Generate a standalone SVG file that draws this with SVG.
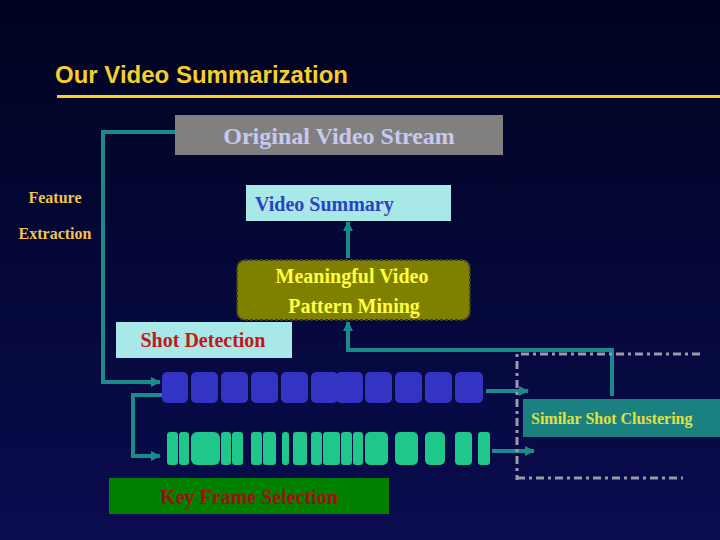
<svg xmlns="http://www.w3.org/2000/svg" width="720" height="540" viewBox="0 0 720 540">
<defs>
<linearGradient id="bg" x1="0" y1="0" x2="0" y2="1"><stop offset="0" stop-color="#00031f"/><stop offset="1" stop-color="#0a0c50"/></linearGradient>
<marker id="ah" markerWidth="10" markerHeight="10" refX="9" refY="5" orient="auto" markerUnits="userSpaceOnUse" viewBox="0 0 10 10"><path d="M0,0 L10,5 L0,10 z" fill="#1a8a8a"/></marker>
<style>
.c{fill:none;stroke:#1a8a8a;stroke-width:4}
.s{font-family:"Liberation Serif",serif;font-weight:bold}
.b{fill:#3434c4}
.g{fill:#1fc88a}
.d{fill:none;stroke:#9a9aaa;stroke-width:3;stroke-dasharray:8,4,3,4}
</style>
</defs>
<rect width="720" height="540" fill="url(#bg)"/>
<g id="title">
<text x="55" y="83" font-family="Liberation Sans,sans-serif" font-weight="bold" font-size="24" fill="#f5cf2a">Our Video Summarization</text>
<rect x="57" y="95" width="663" height="3" fill="#f5cf2a"/>
</g>
<g id="connectors">
<polyline class="c" points="175,132 103,132 103,382 160,382" marker-end="url(#ah)"/>
<polyline class="c" points="348,258 348,222" marker-end="url(#ah)"/>
<polyline class="c" points="612,396 612,350 348,350 348,322" marker-end="url(#ah)"/>
<polyline class="c" points="162,395 133,395 133,456 160,456" stroke-width="3" marker-end="url(#ah)"/>
<polyline class="c" points="486,391 528,391" marker-end="url(#ah)"/>
<polyline class="c" points="492,451 534,451" marker-end="url(#ah)"/>
<polyline class="d" points="700,354 517,354 517,480"/>
<line class="d" x1="517" y1="478" x2="683" y2="478"/>
</g>
<g id="original">
<rect x="175" y="115" width="328" height="40" fill="#808080"/>
<text class="s" x="339" y="144" font-size="24" fill="#c8c8f0" text-anchor="middle">Original Video Stream</text>
</g>
<g id="feature">
<text class="s" x="55" y="203" font-size="16" fill="#f0c44a" text-anchor="middle">Feature</text>
<text class="s" x="55" y="239" font-size="16" fill="#f0c44a" text-anchor="middle">Extraction</text>
</g>
<g id="summary">
<rect x="246" y="185" width="205" height="36" fill="#a8e8e8"/>
<text class="s" x="255" y="211" font-size="20" fill="#2a44c0">Video Summary</text>
</g>
<g id="mining">
<rect x="237" y="260" width="233" height="60" rx="8" fill="#808000" stroke="#3a3a30" stroke-width="2" stroke-dasharray="3,2"/>
<text class="s" x="352" y="283" font-size="20" fill="#ffff40" text-anchor="middle">Meaningful Video</text>
<text class="s" x="354" y="313" font-size="20" fill="#ffff40" text-anchor="middle">Pattern Mining</text>
</g>
<g id="shot">
<rect x="116" y="322" width="176" height="36" fill="#a8e8e8"/>
<text class="s" x="203" y="347" font-size="20" fill="#c01818" text-anchor="middle">Shot Detection</text>
</g>
<g id="shots">
<rect class="b" x="162" y="372" width="26" height="31" rx="5"/>
<rect class="b" x="191" y="372" width="27" height="31" rx="5"/>
<rect class="b" x="221" y="372" width="27" height="31" rx="5"/>
<rect class="b" x="251" y="372" width="27" height="31" rx="5"/>
<rect class="b" x="281" y="372" width="27" height="31" rx="5"/>
<rect class="b" x="311" y="372" width="27" height="31" rx="5"/>
<rect class="b" x="336" y="372" width="27" height="31" rx="5"/>
<rect class="b" x="365" y="372" width="27" height="31" rx="5"/>
<rect class="b" x="395" y="372" width="27" height="31" rx="5"/>
<rect class="b" x="425" y="372" width="27" height="31" rx="5"/>
<rect class="b" x="455" y="372" width="28" height="31" rx="5"/>
</g>
<g id="frames">
<rect class="g" x="167" y="432" width="11" height="33" rx="3"/>
<rect class="g" x="179" y="432" width="10" height="33" rx="3"/>
<rect class="g" x="191" y="432" width="29" height="33" rx="6"/>
<rect class="g" x="221" y="432" width="10" height="33" rx="3"/>
<rect class="g" x="232" y="432" width="11" height="33" rx="3"/>
<rect class="g" x="251" y="432" width="11" height="33" rx="3"/>
<rect class="g" x="263" y="432" width="13" height="33" rx="3"/>
<rect class="g" x="282" y="432" width="7" height="33" rx="3"/>
<rect class="g" x="293" y="432" width="14" height="33" rx="3"/>
<rect class="g" x="311" y="432" width="11" height="33" rx="3"/>
<rect class="g" x="323" y="432" width="17" height="33" rx="3"/>
<rect class="g" x="341" y="432" width="11" height="33" rx="3"/>
<rect class="g" x="353" y="432" width="10" height="33" rx="3"/>
<rect class="g" x="365" y="432" width="23" height="33" rx="5"/>
<rect class="g" x="395" y="432" width="23" height="33" rx="5"/>
<rect class="g" x="425" y="432" width="20" height="33" rx="5"/>
<rect class="g" x="455" y="432" width="17" height="33" rx="4"/>
<rect class="g" x="478" y="432" width="12" height="33" rx="3"/>
</g>
<g id="clustering">
<rect x="523" y="399" width="197" height="38" fill="#1a8080"/>
<text class="s" x="531" y="424" font-size="16" fill="#e0e040">Similar Shot Clustering</text>
</g>
<g id="keyframe">
<rect x="109" y="478" width="280" height="36" fill="#008000"/>
<text class="s" x="249" y="504" font-size="20" fill="#a01010" text-anchor="middle">Key Frame Selection</text>
</g>
</svg>
